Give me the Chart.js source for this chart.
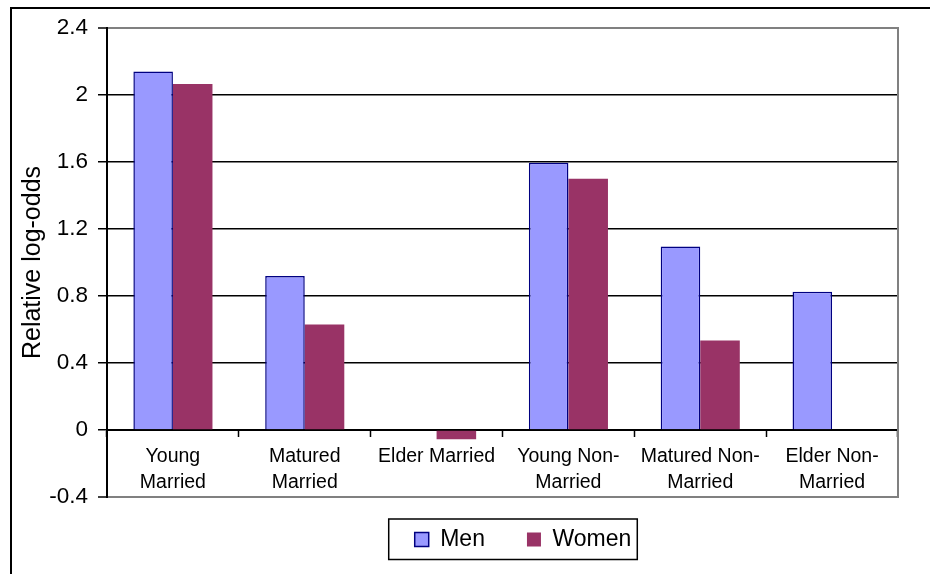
<!DOCTYPE html>
<html><head><meta charset="utf-8">
<script src="https://cdn.jsdelivr.net/npm/chart.js@4/dist/chart.umd.min.js"></script>
<style>html,body{margin:0;padding:0;background:#fff;overflow:hidden;}#wrap{width:930px;height:574px;position:relative;}</style>
</head><body><div id="wrap"><canvas id="c" width="930" height="574"></canvas></div>
<script>
const categories = [['Young', 'Married'], ['Matured', 'Married'], 'Elder Married', ['Young Non-', 'Married'], ['Matured Non-', 'Married'], ['Elder Non-', 'Married']];
const menValues = [2.14, 0.92, null, 1.595, 1.095, 0.825];
const womenValues = [2.065, 0.63, -0.055, 1.50, 0.535, null];
const yTickValues = [-0.4, 0, 0.4, 0.8, 1.2, 1.6, 2, 2.4];
const seriesNames = ['Men', 'Women'];
const yTitle = 'Relative log-odds';

const FONT = '"Liberation Sans", Arial, sans-serif';

const decorPlugin = {
  id: 'decor',
  afterLayout(chart) {
    const lg = chart.legend;
    if (lg) { lg.left += 20.5; lg.right += 20.5; lg.top -= 11; lg.bottom -= 11; }
  },
  beforeDraw(chart) {
    const ctx = chart.ctx;
    ctx.save();
    ctx.fillStyle = '#fff';
    ctx.fillRect(0, 0, chart.width, chart.height);
    ctx.restore();
  },
  afterDraw(chart) {
    const ctx = chart.ctx;
    const a = chart.chartArea;
    ctx.save();
    ctx.strokeStyle = '#808080';
    ctx.lineWidth = 2;
    ctx.beginPath();
    ctx.moveTo(a.right, a.top - 1);
    ctx.lineTo(a.right, a.bottom + 1);
    ctx.stroke();
    const hb = chart.legend && chart.legend.legendHitBoxes;
    if (hb && hb.length) {
      const first = hb[0], last = hb[hb.length - 1];
      const l = first.left - 26, r = last.left + last.width + 6;
      const t = first.top - 9, b = first.top + first.height + 8.5;
      ctx.strokeStyle = '#000';
      ctx.lineWidth = 1.5;
      ctx.strokeRect(l, t, r - l, b - t);
    }
    ctx.strokeStyle = '#000';
    ctx.lineWidth = 2;
    ctx.beginPath();
    ctx.moveTo(11, chart.height);
    ctx.lineTo(11, 8);
    ctx.lineTo(chart.width, 8);
    ctx.stroke();
    ctx.restore();
  }
};

new Chart(document.getElementById('c'), {
  type: 'bar',
  data: {
    labels: categories,
    datasets: [
      { label: seriesNames[0], data: menValues, backgroundColor: '#9999FF', borderColor: '#000080', borderWidth: 1.5,
        categoryPercentage: 0.6, barPercentage: 1.0 },
      { label: seriesNames[1], data: womenValues, backgroundColor: '#993366', borderColor: '#993366', borderWidth: 0,
        categoryPercentage: 0.6, barPercentage: 1.0 }
    ]
  },
  options: {
    responsive: false,
    devicePixelRatio: 1,
    animation: false,
    layout: { padding: { left: 0, top: 28, right: 32, bottom: 2 } },
    plugins: {
      tooltip: { enabled: false },
      title: { display: false },
      legend: {
        position: 'bottom',
        fullSize: false,
        labels: {
          font: { family: FONT, size: 23 },
          color: '#000',
          boxWidth: 14,
          boxHeight: 14,
          padding: 42
        }
      }
    },
    scales: {
      x: {
        position: { y: 0 },
        afterFit(scale) { scale.height = 0; },
        grid: { display: true, drawOnChartArea: false, drawTicks: true, tickLength: 6, tickColor: '#000', tickWidth: 1.5, offset: true },
        border: { display: true, color: '#000', width: 2 },
        ticks: {
          font: { family: FONT, size: 19.5, lineHeight: 1.35 },
          color: '#000',
          padding: 7,
          maxRotation: 0,
          autoSkip: false
        }
      },
      y: {
        min: -0.4,
        max: 2.4,
        afterFit(scale) { scale.width = 107; },
        afterBuildTicks(scale) { scale.ticks = yTickValues.map(v => ({ value: v })); },
        grid: {
          color: (c) => (c.tick && (Math.abs(c.tick.value - 2.4) < 1e-9 || Math.abs(c.tick.value + 0.4) < 1e-9)) ? '#808080' : '#000',
          lineWidth: (c) => (c.tick && (Math.abs(c.tick.value - 2.4) < 1e-9 || Math.abs(c.tick.value + 0.4) < 1e-9)) ? 2 : 1.5,
          tickColor: '#000',
          tickLength: 9,
          tickWidth: 1.5
        },
        border: { display: true, color: '#000', width: 2 },
        ticks: {
          font: { family: FONT, size: 22.5 },
          color: '#000',
          padding: 10,
          callback: (v) => String(Math.round(v * 10) / 10)
        },
        title: {
          display: true,
          text: yTitle,
          font: { family: FONT, size: 25 },
          color: '#000',
          padding: { top: 18, bottom: 0 }
        }
      }
    }
  },
  plugins: [decorPlugin]
});
</script>
</body></html>
